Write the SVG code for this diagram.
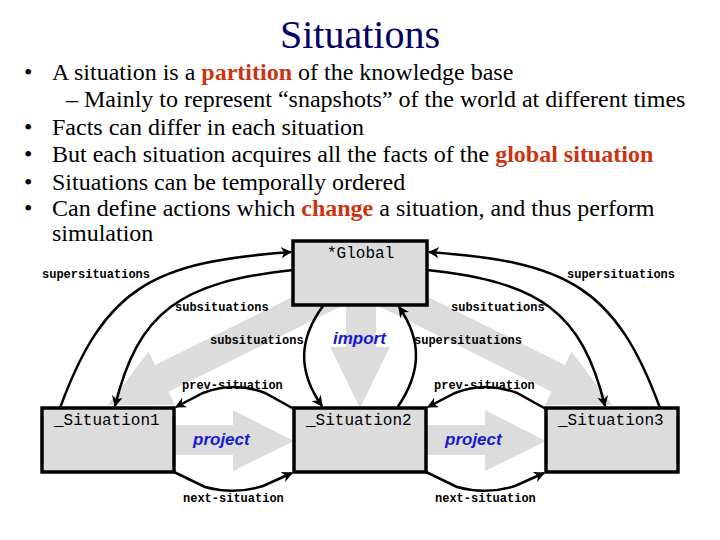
<svg xmlns="http://www.w3.org/2000/svg" width="720" height="540" viewBox="0 0 720 540">
<style>
.title{font-family:"Liberation Serif","Times New Roman",Times,"DejaVu Serif",serif;font-size:40px;fill:#000066}
.body{font-family:"Liberation Serif","Times New Roman",Times,"DejaVu Serif",serif;font-size:24px;fill:#000}
.hl{font-weight:bold;fill:#cc3311}
.box{fill:#dcdcdc;stroke:#000;stroke-width:3.5}
.nlabel{font-family:"Liberation Mono","Courier New","DejaVu Sans Mono",monospace;font-size:16px;fill:#000}
.elabel{font-family:"Liberation Mono","Courier New","DejaVu Sans Mono",monospace;font-size:12px;font-weight:bold;fill:#000}
.conn{fill:none;stroke:#000;stroke-width:2.5}
.big{fill:#dcdcdc;stroke:none}
.act{font-family:"Liberation Sans",Arial,sans-serif;font-size:17px;font-weight:bold;font-style:italic;fill:#1a1acc}
</style>
<defs>
<marker id="ah" viewBox="0 0 10 10" refX="9" refY="5" markerWidth="11" markerHeight="11" markerUnits="userSpaceOnUse" orient="auto">
<path d="M0,0 L10,5 L0,10 L3,5 z" fill="#000"/>
</marker>
</defs>
<rect width="720" height="540" fill="#fff"/>
<text class="title" x="360" y="48" text-anchor="middle">Situations</text>
<g id="bullets">
<text class="body" x="24" y="80">•</text>
<text class="body" x="52" y="80">A situation is a <tspan class="hl">partition</tspan> of the knowledge base</text>
<text class="body" x="66" y="107">–  Mainly to represent “snapshots” of the world at different times</text>
<text class="body" x="24" y="135">•</text>
<text class="body" x="52" y="135">Facts can differ in each situation</text>
<text class="body" x="24" y="162">•</text>
<text class="body" x="52" y="162">But each situation acquires all the facts of the <tspan class="hl">global situation</tspan></text>
<text class="body" x="24" y="190">•</text>
<text class="body" x="52" y="190">Situations can be temporally ordered</text>
<text class="body" x="24" y="216">•</text>
<text class="body" x="52" y="216">Can define actions which <tspan class="hl">change</tspan> a situation, and thus perform</text>
<text class="body" x="52" y="241">simulation</text>
</g>
<g id="bigarrows">
<polygon class="big" points="386.7,276.6 564.9,365 571.5,351.5 612,405 544.9,405.3 551.5,391.8 373.3,303.4"/>
<polygon class="big" points="333.3,276.6 155.1,365 148.5,351.5 108,405 175.1,405.3 168.5,391.8 346.7,303.4"/>
<polygon class="big" points="346,290 376,290 376,347 390,347 360,408 330,347 346,347"/>
<polygon class="big" points="170,425 233,425 233,410 294,441 233,471 233,455 170,455"/>
<polygon class="big" points="422,425 485,425 485,410 546,441 485,471 485,455 422,455"/>
<text class="act" x="193" y="445">project</text>
<text class="act" x="445" y="445">project</text>
<text class="act" x="333" y="344">import</text>
</g>
<g id="global">
<rect class="box" x="293" y="241" width="134" height="64"/>
<text class="nlabel" x="327" y="258">*Global</text>
</g>
<g id="situation1">
<rect class="box" x="42" y="408" width="132" height="64"/>
<text class="nlabel" x="54" y="425">_Situation1</text>
</g>
<g id="situation2">
<rect class="box" x="294" y="408" width="132" height="64"/>
<text class="nlabel" x="306" y="425">_Situation2</text>
</g>
<g id="situation3">
<rect class="box" x="546" y="408" width="132" height="64"/>
<text class="nlabel" x="558" y="425">_Situation3</text>
</g>
<g id="connectors">
<path class="conn" d="M60,408 C105,285 155,262 291,252" marker-end="url(#ah)"/>
<path class="conn" d="M293,270 C180,282 138,312 115,406" marker-end="url(#ah)"/>
<path class="conn" d="M323,306 C298,340 298,372 322,406" marker-end="url(#ah)"/>
<path class="conn" d="M397,408 C422,372 422,340 399,307" marker-end="url(#ah)"/>
<path class="conn" d="M660,408 C615,285 565,262 429,252" marker-end="url(#ah)"/>
<path class="conn" d="M427,270 C540,282 582,312 605,406" marker-end="url(#ah)"/>
<path class="conn" d="M294,409 L265,393 Q234,381 203,393 L176,407" marker-end="url(#ah)"/>
<path class="conn" d="M546,409 L517,393 Q486,381 455,393 L428,407" marker-end="url(#ah)"/>
<path class="conn" d="M174,472 L205,487 Q234,495 263,486 L292,473" marker-end="url(#ah)"/>
<path class="conn" d="M426,472 L457,487 Q486,495 515,486 L544,473" marker-end="url(#ah)"/>
<text class="elabel" x="42" y="278">supersituations</text>
<text class="elabel" x="175" y="311">subsituations</text>
<text class="elabel" x="210" y="344">subsituations</text>
<text class="elabel" x="182" y="389">prev-situation</text>
<text class="elabel" x="414" y="344">supersituations</text>
<text class="elabel" x="451" y="311">subsituations</text>
<text class="elabel" x="567" y="278">supersituations</text>
<text class="elabel" x="434" y="389">prev-situation</text>
<text class="elabel" x="183" y="502">next-situation</text>
<text class="elabel" x="435" y="502">next-situation</text>
</g>
</svg>
